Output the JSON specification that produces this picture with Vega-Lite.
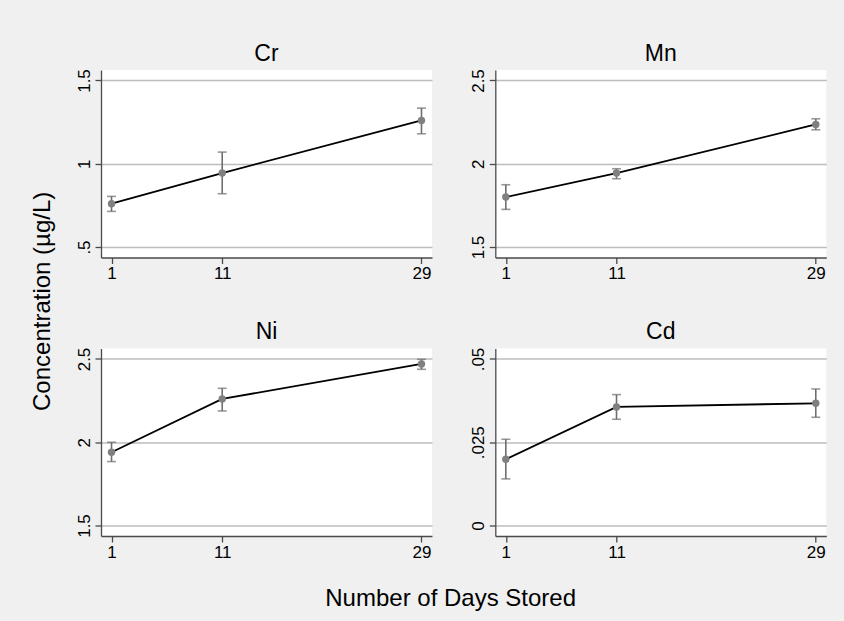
{
  "$schema": "https://vega.github.io/schema/vega-lite/v6.json",
  "background": "#f0f0f0",
  "padding": {"left": 30, "top": 42, "right": 18, "bottom": 11},
  "config": {
    "font": "Liberation Sans",
    "view": {"fill": "white", "stroke": null},
    "axis": {
      "domainColor": "#4a4a4a",
      "domainWidth": 1.3,
      "tickColor": "#4a4a4a",
      "tickWidth": 1.3,
      "tickSize": 6,
      "labelColor": "black",
      "labelFontSize": 17,
      "labelFont": "Liberation Sans",
      "gridColor": "#bdbdbd",
      "gridWidth": 1.3,
      "labelPadding": 2
    },
    "title": {"fontSize": 23, "fontWeight": "normal", "color": "black", "font": "Liberation Sans"}
  },
  "datasets": {
    "d": [
      {"metal": "Cr", "day": 1, "mean": 0.76, "lo": 0.714, "hi": 0.804},
      {"metal": "Cr", "day": 11, "mean": 0.944, "lo": 0.82, "hi": 1.07},
      {"metal": "Cr", "day": 29, "mean": 1.26, "lo": 1.18, "hi": 1.334},
      {"metal": "Mn", "day": 1, "mean": 1.8, "lo": 1.726, "hi": 1.874},
      {"metal": "Mn", "day": 11, "mean": 1.944, "lo": 1.91, "hi": 1.97},
      {"metal": "Mn", "day": 29, "mean": 2.236, "lo": 2.204, "hi": 2.27},
      {"metal": "Ni", "day": 1, "mean": 1.94, "lo": 1.884, "hi": 2.0},
      {"metal": "Ni", "day": 11, "mean": 2.26, "lo": 2.188, "hi": 2.324},
      {"metal": "Ni", "day": 29, "mean": 2.47, "lo": 2.438, "hi": 2.498},
      {"metal": "Cd", "day": 1, "mean": 0.0199, "lo": 0.014, "hi": 0.0259},
      {"metal": "Cd", "day": 11, "mean": 0.0356, "lo": 0.0319, "hi": 0.0393},
      {"metal": "Cd", "day": 29, "mean": 0.0367, "lo": 0.0325, "hi": 0.041}
    ]
  },
  "title": {"text": "Number of Days Stored", "orient": "bottom", "anchor": "middle", "fontSize": 24, "offset": 27, "dx": 22},
  "vconcat": [
    {
      "title": {"text": "Concentration (µg/L)", "orient": "left", "anchor": "middle", "fontSize": 24, "offset": 20},
      "bounds": "flush",
      "columns": 2,
      "spacing": {"row": 90.5, "column": 63.3},
      "concat": [
        {
          "width": 331, "height": 187.5,
          "title": {"text": "Cr", "offset": 3},
          "data": {"name": "d"},
          "transform": [{"filter": "datum.metal == 'Cr'"}],
          "encoding": {"x": {"field": "day", "type": "quantitative", "scale": {"domain": [0.05, 29.95], "nice": false, "zero": false}, "axis": {"values": [1, 11, 29], "title": null, "grid": false}}},
          "layer": [
            {"mark": {"type": "rule", "color": "#6e6e6e", "strokeWidth": 1.6}, "encoding": {"y": {"field": "lo", "type": "quantitative", "scale": {"domain": [0.437, 1.563], "nice": false, "zero": false}, "axis": {"values": [0.5, 1, 1.5], "title": null, "grid": true, "labelAngle": -90, "labelExpr": "replace(format(datum.value, '~g'), '0.', '.')"}}, "y2": {"field": "hi"}}},
            {"mark": {"type": "tick", "orient": "horizontal", "color": "#6e6e6e", "size": 9, "thickness": 1.6}, "encoding": {"y": {"field": "lo", "type": "quantitative"}}},
            {"mark": {"type": "tick", "orient": "horizontal", "color": "#6e6e6e", "size": 9, "thickness": 1.6}, "encoding": {"y": {"field": "hi", "type": "quantitative"}}},
            {"mark": {"type": "line", "color": "black", "strokeWidth": 1.8}, "encoding": {"y": {"field": "mean", "type": "quantitative"}}},
            {"mark": {"type": "point", "filled": true, "color": "#808080", "size": 55, "opacity": 1}, "encoding": {"y": {"field": "mean", "type": "quantitative"}}}
          ]
        },
        {
          "width": 331, "height": 187.5,
          "title": {"text": "Mn", "offset": 3},
          "data": {"name": "d"},
          "transform": [{"filter": "datum.metal == 'Mn'"}],
          "encoding": {"x": {"field": "day", "type": "quantitative", "scale": {"domain": [0.05, 29.95], "nice": false, "zero": false}, "axis": {"values": [1, 11, 29], "title": null, "grid": false}}},
          "layer": [
            {"mark": {"type": "rule", "color": "#6e6e6e", "strokeWidth": 1.6}, "encoding": {"y": {"field": "lo", "type": "quantitative", "scale": {"domain": [1.437, 2.563], "nice": false, "zero": false}, "axis": {"values": [1.5, 2, 2.5], "title": null, "grid": true, "labelAngle": -90, "labelExpr": "replace(format(datum.value, '~g'), '0.', '.')"}}, "y2": {"field": "hi"}}},
            {"mark": {"type": "tick", "orient": "horizontal", "color": "#6e6e6e", "size": 9, "thickness": 1.6}, "encoding": {"y": {"field": "lo", "type": "quantitative"}}},
            {"mark": {"type": "tick", "orient": "horizontal", "color": "#6e6e6e", "size": 9, "thickness": 1.6}, "encoding": {"y": {"field": "hi", "type": "quantitative"}}},
            {"mark": {"type": "line", "color": "black", "strokeWidth": 1.8}, "encoding": {"y": {"field": "mean", "type": "quantitative"}}},
            {"mark": {"type": "point", "filled": true, "color": "#808080", "size": 55, "opacity": 1}, "encoding": {"y": {"field": "mean", "type": "quantitative"}}}
          ]
        },
        {
          "width": 331, "height": 187.5,
          "title": {"text": "Ni", "offset": 3},
          "data": {"name": "d"},
          "transform": [{"filter": "datum.metal == 'Ni'"}],
          "encoding": {"x": {"field": "day", "type": "quantitative", "scale": {"domain": [0.05, 29.95], "nice": false, "zero": false}, "axis": {"values": [1, 11, 29], "title": null, "grid": false}}},
          "layer": [
            {"mark": {"type": "rule", "color": "#6e6e6e", "strokeWidth": 1.6}, "encoding": {"y": {"field": "lo", "type": "quantitative", "scale": {"domain": [1.437, 2.563], "nice": false, "zero": false}, "axis": {"values": [1.5, 2, 2.5], "title": null, "grid": true, "labelAngle": -90, "labelExpr": "replace(format(datum.value, '~g'), '0.', '.')"}}, "y2": {"field": "hi"}}},
            {"mark": {"type": "tick", "orient": "horizontal", "color": "#6e6e6e", "size": 9, "thickness": 1.6}, "encoding": {"y": {"field": "lo", "type": "quantitative"}}},
            {"mark": {"type": "tick", "orient": "horizontal", "color": "#6e6e6e", "size": 9, "thickness": 1.6}, "encoding": {"y": {"field": "hi", "type": "quantitative"}}},
            {"mark": {"type": "line", "color": "black", "strokeWidth": 1.8}, "encoding": {"y": {"field": "mean", "type": "quantitative"}}},
            {"mark": {"type": "point", "filled": true, "color": "#808080", "size": 55, "opacity": 1}, "encoding": {"y": {"field": "mean", "type": "quantitative"}}}
          ]
        },
        {
          "width": 331, "height": 187.5,
          "title": {"text": "Cd", "offset": 3},
          "data": {"name": "d"},
          "transform": [{"filter": "datum.metal == 'Cd'"}],
          "encoding": {"x": {"field": "day", "type": "quantitative", "scale": {"domain": [0.05, 29.95], "nice": false, "zero": false}, "axis": {"values": [1, 11, 29], "title": null, "grid": false}}},
          "layer": [
            {"mark": {"type": "rule", "color": "#6e6e6e", "strokeWidth": 1.6}, "encoding": {"y": {"field": "lo", "type": "quantitative", "scale": {"domain": [-0.00315, 0.05315], "nice": false, "zero": false}, "axis": {"values": [0, 0.025, 0.05], "title": null, "grid": true, "labelAngle": -90, "labelExpr": "replace(format(datum.value, '~g'), '0.', '.')"}}, "y2": {"field": "hi"}}},
            {"mark": {"type": "tick", "orient": "horizontal", "color": "#6e6e6e", "size": 9, "thickness": 1.6}, "encoding": {"y": {"field": "lo", "type": "quantitative"}}},
            {"mark": {"type": "tick", "orient": "horizontal", "color": "#6e6e6e", "size": 9, "thickness": 1.6}, "encoding": {"y": {"field": "hi", "type": "quantitative"}}},
            {"mark": {"type": "line", "color": "black", "strokeWidth": 1.8}, "encoding": {"y": {"field": "mean", "type": "quantitative"}}},
            {"mark": {"type": "point", "filled": true, "color": "#808080", "size": 55, "opacity": 1}, "encoding": {"y": {"field": "mean", "type": "quantitative"}}}
          ]
        }
      ]
    }
  ]
}
